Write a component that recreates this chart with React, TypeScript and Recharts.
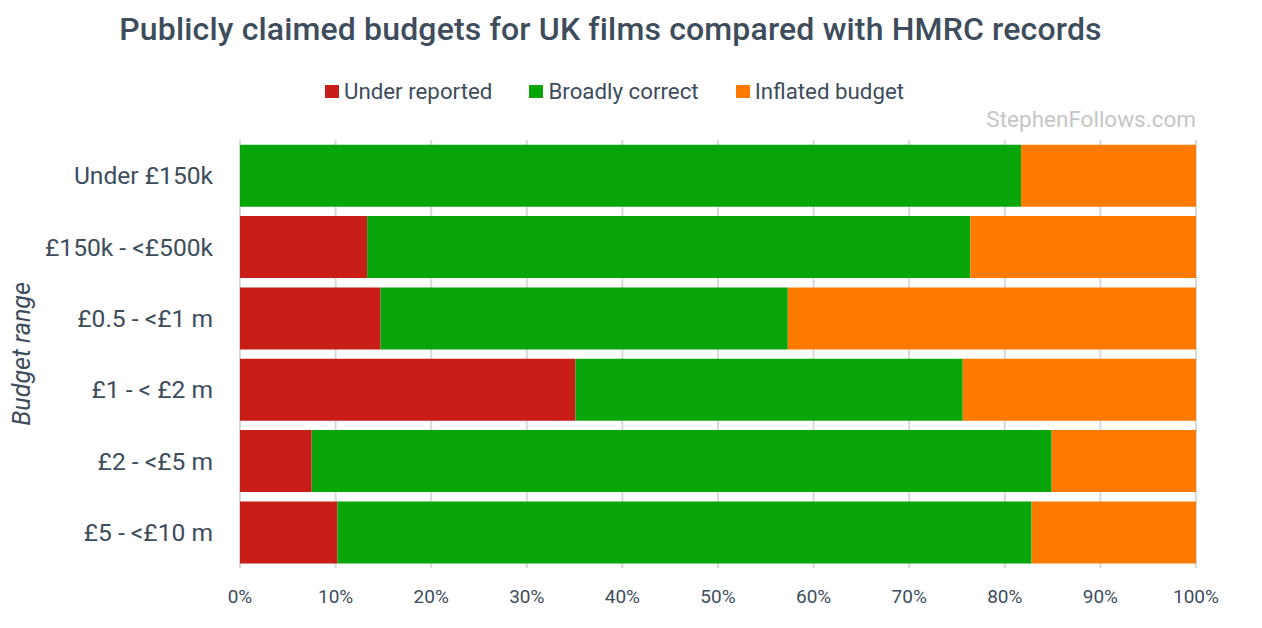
import React from 'react'
import { BarChart, Bar, XAxis, YAxis, CartesianGrid, Legend } from 'recharts'

const categories = ['Under £150k', '£150k - <£500k', '£0.5 - <£1 m', '£1 - < £2 m', '£2 - <£5 m', '£5 - <£10 m']
const underReported = [0, 13.3, 14.7, 35.1, 7.5, 10.2]
const broadlyCorrect = [81.7, 63.1, 42.6, 40.5, 77.4, 72.6]
const inflatedBudget = [18.3, 23.6, 42.7, 24.4, 15.1, 17.2]
const xTicks = [0, 10, 20, 30, 40, 50, 60, 70, 80, 90, 100]

const seriesNames = ['Under reported', 'Broadly correct', 'Inflated budget']
const seriesColors = ['#c91d18', '#08a60b', '#ff7b00']

const data = categories.map((name, i) => ({
    name,
    under: underReported[i],
    correct: broadlyCorrect[i],
    inflated: inflatedBudget[i],
}))

const textColor = '#3d4d5c'
const font = 'Roboto, sans-serif'

function renderLegend() {
    return (
        <div style={{ display: 'flex', justifyContent: 'center', fontFamily: font, fontSize: 22.3, color: textColor }}>
            {seriesNames.map((name, i) => (
                <div key={name} style={{ display: 'flex', alignItems: 'center', marginRight: i < 2 ? 37 : 0 }}>
                    <span style={{ width: 14, height: 13, background: seriesColors[i], marginRight: 5, display: 'inline-block' }} />
                    <span>{name}</span>
                </div>
            ))}
        </div>
    )
}

function App() {
    return (
        <div style={{ position: 'absolute', left: 0, top: 0, width: 1262, height: 628, background: '#fff' }}>
            <div style={{ position: 'absolute', left: 0, top: 11, width: 1221, textAlign: 'center', fontFamily: font, fontWeight: 500, fontSize: 32, letterSpacing: 0.15, color: textColor, lineHeight: '36px', whiteSpace: 'nowrap' }}>
                Publicly claimed budgets for UK films compared with HMRC records
            </div>
            <div style={{ position: 'absolute', right: 66, top: 106, fontFamily: font, fontSize: 22.5, color: '#c6c6c6', lineHeight: '26px' }}>
                StephenFollows.com
            </div>
            <div style={{ position: 'absolute', left: 21, top: 354, transform: 'translate(-50%, -50%) rotate(-90deg)', fontFamily: font, fontStyle: 'italic', fontSize: 25, color: textColor, whiteSpace: 'nowrap' }}>
                Budget range
            </div>
            <BarChart width={1262} height={628} data={data} layout="vertical" barCategoryGap="6.7%"
                margin={{ top: 140, right: 66, bottom: 0, left: 0 }}>
                <CartesianGrid horizontal={false} stroke="#d9d9d9" strokeWidth={2} />
                <XAxis type="number" domain={[0, 100]} ticks={xTicks} tickFormatter={(v: number) => `${v}%`}
                    axisLine={false} tickLine={false} tickSize={0} tickMargin={22} height={60}
                    tick={{ fill: textColor, fontSize: 19, fontFamily: font }} />
                <YAxis type="category" dataKey="name" width={240} axisLine={false} tickLine={false}
                    tickSize={0} tickMargin={27} tick={{ fill: textColor, fontSize: 24.6, fontFamily: font }} />
                <Legend layout="horizontal" verticalAlign="middle" align="center" content={renderLegend}
                    wrapperStyle={{ top: 78, left: 0, width: 1229, height: 30 }} />
                <Bar dataKey="under" name={seriesNames[0]} stackId="a" fill={seriesColors[0]} isAnimationActive={false} />
                <Bar dataKey="correct" name={seriesNames[1]} stackId="a" fill={seriesColors[1]} isAnimationActive={false} />
                <Bar dataKey="inflated" name={seriesNames[2]} stackId="a" fill={seriesColors[2]} isAnimationActive={false} />
            </BarChart>
        </div>
    )
}

export default App
